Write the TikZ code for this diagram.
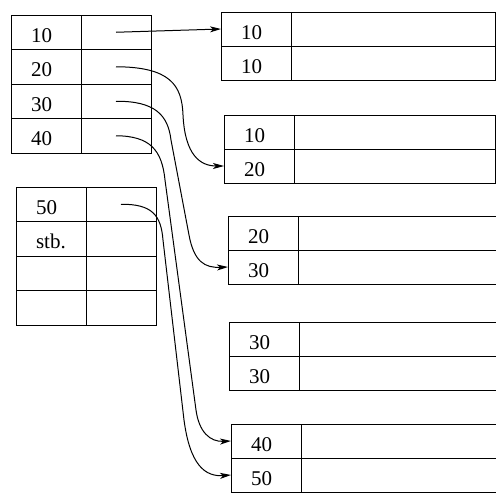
\documentclass[tikz,border=0pt]{standalone}
\usepackage{fontspec}
\setmainfont{Liberation Serif}
\usetikzlibrary{arrows.meta,positioning}

\begin{document}
\begin{tikzpicture}[x=1pt,y=-1pt,
  cell/.style={draw,line width=1pt,inner sep=0pt,outer sep=0pt,anchor=north west,minimum height=34.5pt},
  keycell/.style={cell,text width=30pt,inner xsep=20pt,align=left,text height=20pt,text depth=0pt,font=\fontsize{21}{25}\selectfont},
  ptrcell/.style={cell,minimum width=70pt},
  rkey/.style={keycell,minimum height=34pt},
  rdata/.style={cell,minimum height=34pt,minimum width=#1},
  link/.style={-{Stealth[length=11pt,width=6pt,inset=3pt]},line width=1pt}]
\useasboundingbox (0,0) rectangle (496,493);
\path[fill=white] (0,0) rectangle (496,493);
% index block 1
\node[keycell] (k10) at (11,15) {10};
\node[ptrcell,right=0pt of k10] (p10) {};
\node[keycell,below=0pt of k10] (k20) {20};
\node[ptrcell,right=0pt of k20] (p20) {};
\node[keycell,below=0pt of k20] (k30) {30};
\node[ptrcell,right=0pt of k30] (p30) {};
\node[keycell,below=0pt of k30] (k40) {40};
\node[ptrcell,right=0pt of k40] (p40) {};
% index block 2
\node[keycell] (k50) at (16,187) {50};
\node[ptrcell,right=0pt of k50] (p50) {};
\node[keycell,below=0pt of k50] (kstb) {stb.};
\node[ptrcell,right=0pt of kstb] (pstb) {};
\node[keycell,below=0pt of kstb] (ke3) {};
\node[ptrcell,right=0pt of ke3] (pe3) {};
\node[keycell,below=0pt of ke3] (ke4) {};
\node[ptrcell,right=0pt of ke4] (pe4) {};
% data blocks
\node[rkey] (r1a) at (221,12) {10};
\node[rkey,below=0pt of r1a] (r1b) {10};
\node[rdata=204pt,right=0pt of r1a] (d1a) {};
\node[rdata=204pt,right=0pt of r1b] (d1b) {};
\node[rkey] (r2a) at (224,115) {10};
\node[rkey,below=0pt of r2a] (r2b) {20};
\node[rdata=201pt,right=0pt of r2a] (d2a) {};
\node[rdata=201pt,right=0pt of r2b] (d2b) {};
\node[rkey] (r3a) at (228,216) {20};
\node[rkey,below=0pt of r3a] (r3b) {30};
\node[rkey] (r4a) at (229,322) {30};
\node[rkey,below=0pt of r4a] (r4b) {30};
\node[rkey] (r5a) at (231,424) {40};
\node[rkey,below=0pt of r5a] (r5b) {50};
\draw[line width=1pt] (r3a.north east) -- ++(198,0) (r3a.south east) -- ++(198,0) (r3b.south east) -- ++(198,0);
\draw[line width=1pt] (r4a.north east) -- ++(197,0) (r4a.south east) -- ++(197,0) (r4b.south east) -- ++(197,0);
\draw[line width=1pt] (r5a.north east) -- ++(195,0) (r5a.south east) -- ++(195,0) (r5b.south east) -- ++(195,0);
% pointers
\draw[link] (p10.center) -- (r1a.west);
\draw[link] (p20.center) .. controls (170,67) and (182,85) .. (183,115) .. controls (185,155) and (200,166) .. (r2b.west);
\draw[link] (p30.center) .. controls (155,101) and (168,115) .. (171,140) -- (189,235) .. controls (194,262) and (205,268) .. (r3b.west);
\draw[link] (p40.center) .. controls (150,136) and (162,150) .. (165,180) -- (196,410) .. controls (199,432) and (210,442) .. (r5a.west);
\draw[link] (p50.center) .. controls (152,204) and (161,215) .. (163,240) -- (184,420) .. controls (190,465) and (205,477) .. (r5b.west);
\end{tikzpicture}
\end{document}
